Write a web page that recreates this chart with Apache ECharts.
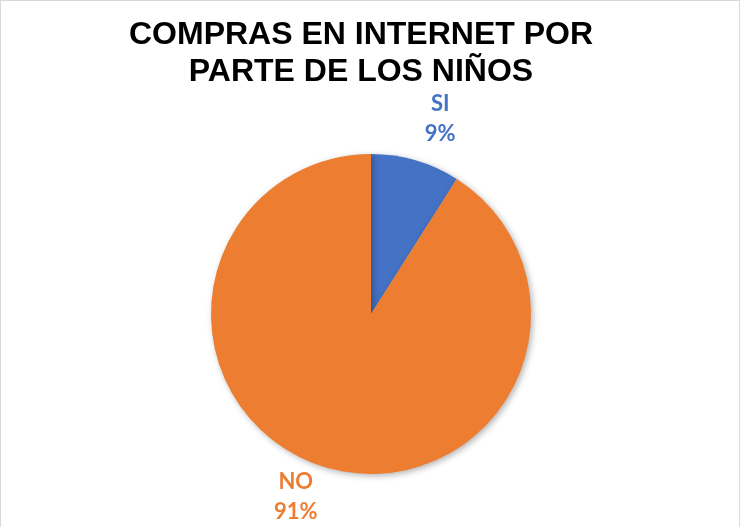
<!DOCTYPE html>
<html><head><meta charset="utf-8">
<script src="https://cdn.jsdelivr.net/npm/echarts@6/dist/echarts.min.js"></script>
<style>html,body{margin:0;padding:0;background:#fff;overflow:hidden}
#c{position:absolute;left:0;top:0;width:740px;height:545px;box-sizing:border-box;border:1px solid #d9d9d9}</style>
</head><body><div id="c"></div>
<script>
const titleText = 'COMPRAS EN INTERNET POR\nPARTE DE LOS NIÑOS';
const categories = ['SI', 'NO'];
const values = [9, 91];
const colors = ['#4472C4', '#ED7D31'];
const labelShift = [[14, -22], [-20, 10]];

const chart = echarts.init(document.getElementById('c'));
chart.setOption({
  backgroundColor: '#fff',
  animation: false,
  title: {
    text: titleText,
    left: 355, top: 11,
    textAlign: 'center',
    textStyle: {fontFamily: 'Liberation Sans', fontWeight: 'bold', fontSize: 32, lineHeight: 37, color: '#000'}
  },
  series: [{
    type: 'pie',
    center: [370, 313],
    radius: 160,
    startAngle: 90,
    clockwise: true,
    data: categories.map((n, i) => ({name: n, value: values[i], itemStyle: {color: colors[i]},
      label: {color: colors[i]}})),
    itemStyle: {shadowBlur: 6, shadowColor: 'rgba(0,0,0,0.3)', shadowOffsetX: 2, shadowOffsetY: 2},
    label: {
      show: true, position: 'outside',
      formatter: p => p.name + '\n' + Math.round(p.percent) + '%',
      fontFamily: 'Lato', fontWeight: 'bold', fontSize: 22, lineHeight: 30, align: 'center'
    },
    labelLine: {show: false, length: 20, length2: 0},
    labelLayout: function (p) {
      return {align: 'center', dx: labelShift[p.dataIndex][0], dy: labelShift[p.dataIndex][1]};
    }
  }]
});
</script></body></html>
